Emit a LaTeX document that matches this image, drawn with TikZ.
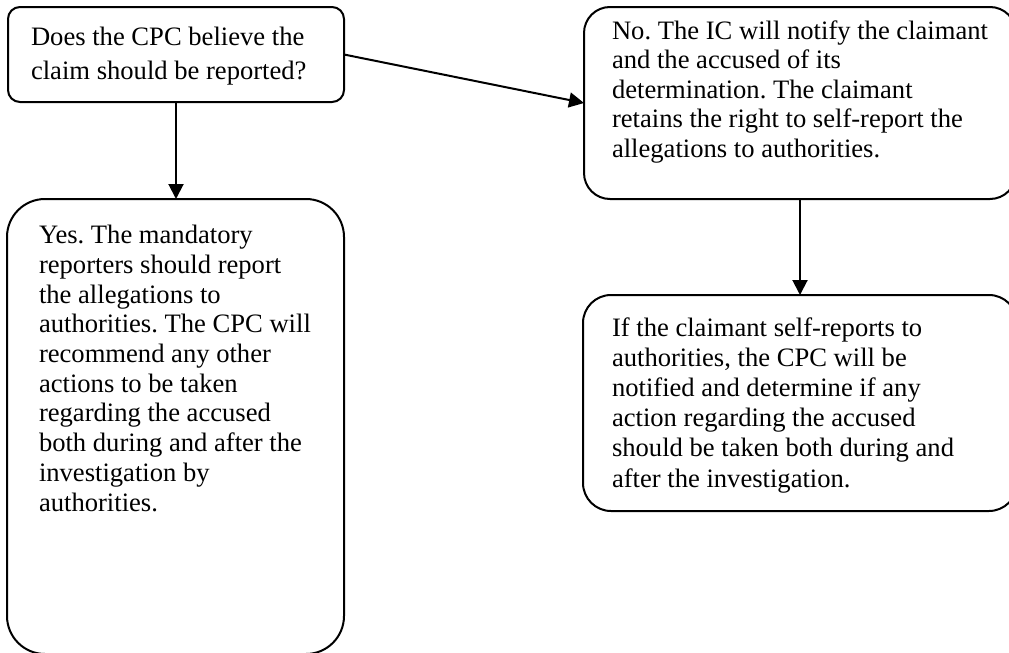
\documentclass[tikz,border=0pt]{standalone}
\usepackage{fontspec}
\setmainfont{Liberation Serif}
\usetikzlibrary{arrows.meta}
\frenchspacing
\begin{document}
\begin{tikzpicture}[x=1pt,y=-1pt,
  box/.style={draw, line width=2pt, outer sep=0pt, inner sep=0pt, anchor=north west},
  txt/.style={anchor=base west, align=left, inner sep=0pt, outer sep=0pt},
  conn/.style={line width=2pt, -{Triangle[length=15pt,width=15pt]}}]
\useasboundingbox (0,0) rectangle (1009,653);
\node[box, rounded corners=12pt, minimum width=336pt, minimum height=95pt] (q) at (8,7) {};
\node[box, rounded corners=38pt, minimum width=337pt, minimum height=455pt] (yes) at (7,199) {};
\node[box, rounded corners=26pt, minimum width=432pt, minimum height=192pt] (no) at (584,7) {};
\node[box, rounded corners=28pt, minimum width=434pt, minimum height=216pt] (ifc) at (583,295) {};
\node[txt, font=\fontsize{26.6}{34}\selectfont] (qt) at (31,79) {Does the CPC believe the\\claim should be reported?};
\node[txt, font=\fontsize{26.6}{29.7}\selectfont] (yt) at (39,511) {Yes. The mandatory\\reporters should report\\the allegations to\\authorities. The CPC will\\recommend any other\\actions to be taken\\regarding the accused\\both during and after the\\investigation by\\authorities.};
\node[txt, font=\fontsize{26.6}{29.4}\selectfont] (nt) at (612,157) {No. The IC will notify the claimant\\and the accused of its\\determination. The claimant\\retains the right to self-report the\\allegations to authorities.};
\node[txt, font=\fontsize{26.6}{30.2}\selectfont] (it) at (612,487) {If the claimant self-reports to\\authorities, the CPC will be\\notified and determine if any\\action regarding the accused\\should be taken both during and\\after the investigation.};
\draw[conn] (q.south) -- (q.south |- yes.north);
\draw[conn] (q.east) -- (no.west);
\draw[conn] (no.south) -- (no.south |- ifc.north);
\end{tikzpicture}
\end{document}
